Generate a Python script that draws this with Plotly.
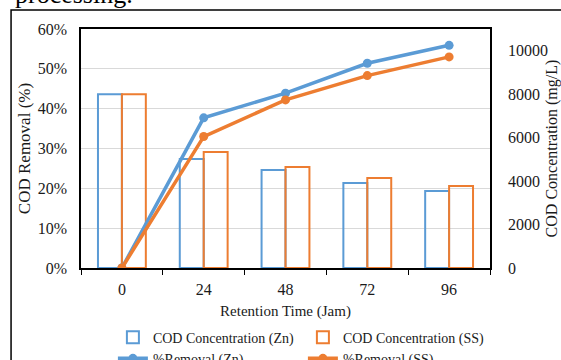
import plotly.graph_objects as go

hours = ["0", "24", "48", "72", "96"]
cod_zn = [8000, 5020, 4510, 3910, 3540]
cod_ss = [8000, 5340, 4650, 4140, 3770]
rem_zn = [0.0, 0.377, 0.439, 0.514, 0.559]
rem_ss = [0.0, 0.330, 0.422, 0.483, 0.530]

BLUE = "#5B9BD5"
ORANGE = "#ED7D31"
SERIF = "Liberation Serif"

fig = go.Figure()
fig.add_trace(go.Bar(x=hours, y=cod_zn, name="COD Concentration (Zn)", yaxis="y",
                     marker=dict(color="rgba(255,255,255,0)", line=dict(color=BLUE, width=2))))
fig.add_trace(go.Bar(x=hours, y=cod_ss, name="COD Concentration (SS)", yaxis="y",
                     marker=dict(color="rgba(255,255,255,0)", line=dict(color=ORANGE, width=2))))
fig.add_trace(go.Scatter(x=hours, y=rem_zn, name="%Removal (Zn)", yaxis="y2", mode="lines+markers",
                         line=dict(color=BLUE, width=3.5), marker=dict(color=BLUE, size=9)))
fig.add_trace(go.Scatter(x=hours, y=rem_ss, name="%Removal (SS)", yaxis="y2", mode="lines+markers",
                         line=dict(color=ORANGE, width=3.5), marker=dict(color=ORANGE, size=9)))

fig.update_layout(
    width=561, height=360,
    margin=dict(l=81, r=71, t=29, b=92, autoexpand=False),
    paper_bgcolor="white", plot_bgcolor="white",
    font=dict(family=SERIF, size=16, color="#1a1a1a"),
    barmode="group", bargap=0.415, bargroupgap=0,
    showlegend=True,
    legend=dict(orientation="h", x=0.078, xanchor="left", y=-0.224, yanchor="top",
                font=dict(size=14, family=SERIF, color="#1a1a1a"),
                entrywidth=145, entrywidthmode="pixels",
                bgcolor="rgba(0,0,0,0)", tracegroupgap=0, itemwidth=30),
    xaxis=dict(type="category", tickson="boundaries", ticks="outside", ticklen=5, tickcolor="#000",
               showline=True, linecolor="#000", linewidth=1.5, mirror=True,
               showgrid=False, ticklabelstandoff=6,
               tickfont=dict(family=SERIF, size=16),
               title=dict(text="Retention Time (Jam)", font=dict(family=SERIF, size=15), standoff=9)),
    yaxis=dict(side="right", range=[0, 11000], tickvals=[0, 2000, 4000, 6000, 8000, 10000],
               tickformat="d",
               showgrid=False, showline=True, linecolor="#000", linewidth=1.5, mirror=True,
               ticks="", ticklabelstandoff=13, zeroline=False,
               tickfont=dict(family=SERIF, size=16),
               title=dict(text="COD Concentration (mg/L)", font=dict(family=SERIF, size=16), standoff=14)),
    yaxis2=dict(side="left", overlaying="y", range=[0, 0.6], dtick=0.1, tickformat=".0%",
                showgrid=True, gridcolor="#d9d9d9", gridwidth=1, zeroline=False,
                showline=False, ticks="", ticklabelstandoff=13,
                tickfont=dict(family=SERIF, size=16),
                title=dict(text="COD Removal (%)", font=dict(family=SERIF, size=17), standoff=2)),
)

# outer document frame and cut-off text above the chart
fig.add_shape(type="rect", xref="paper", yref="paper", x0=-0.171, x1=1.4, y0=-0.6, y1=1.0795,
              line=dict(color="#000", width=1.5), fillcolor="rgba(0,0,0,0)", layer="below")
fig.add_annotation(text="processing.", xref="paper", yref="paper", x=-0.167, y=1.145,
                   xanchor="left", yanchor="middle", showarrow=False,
                   font=dict(family=SERIF, size=26, color="#000"))

fig.write_html("out.html")
